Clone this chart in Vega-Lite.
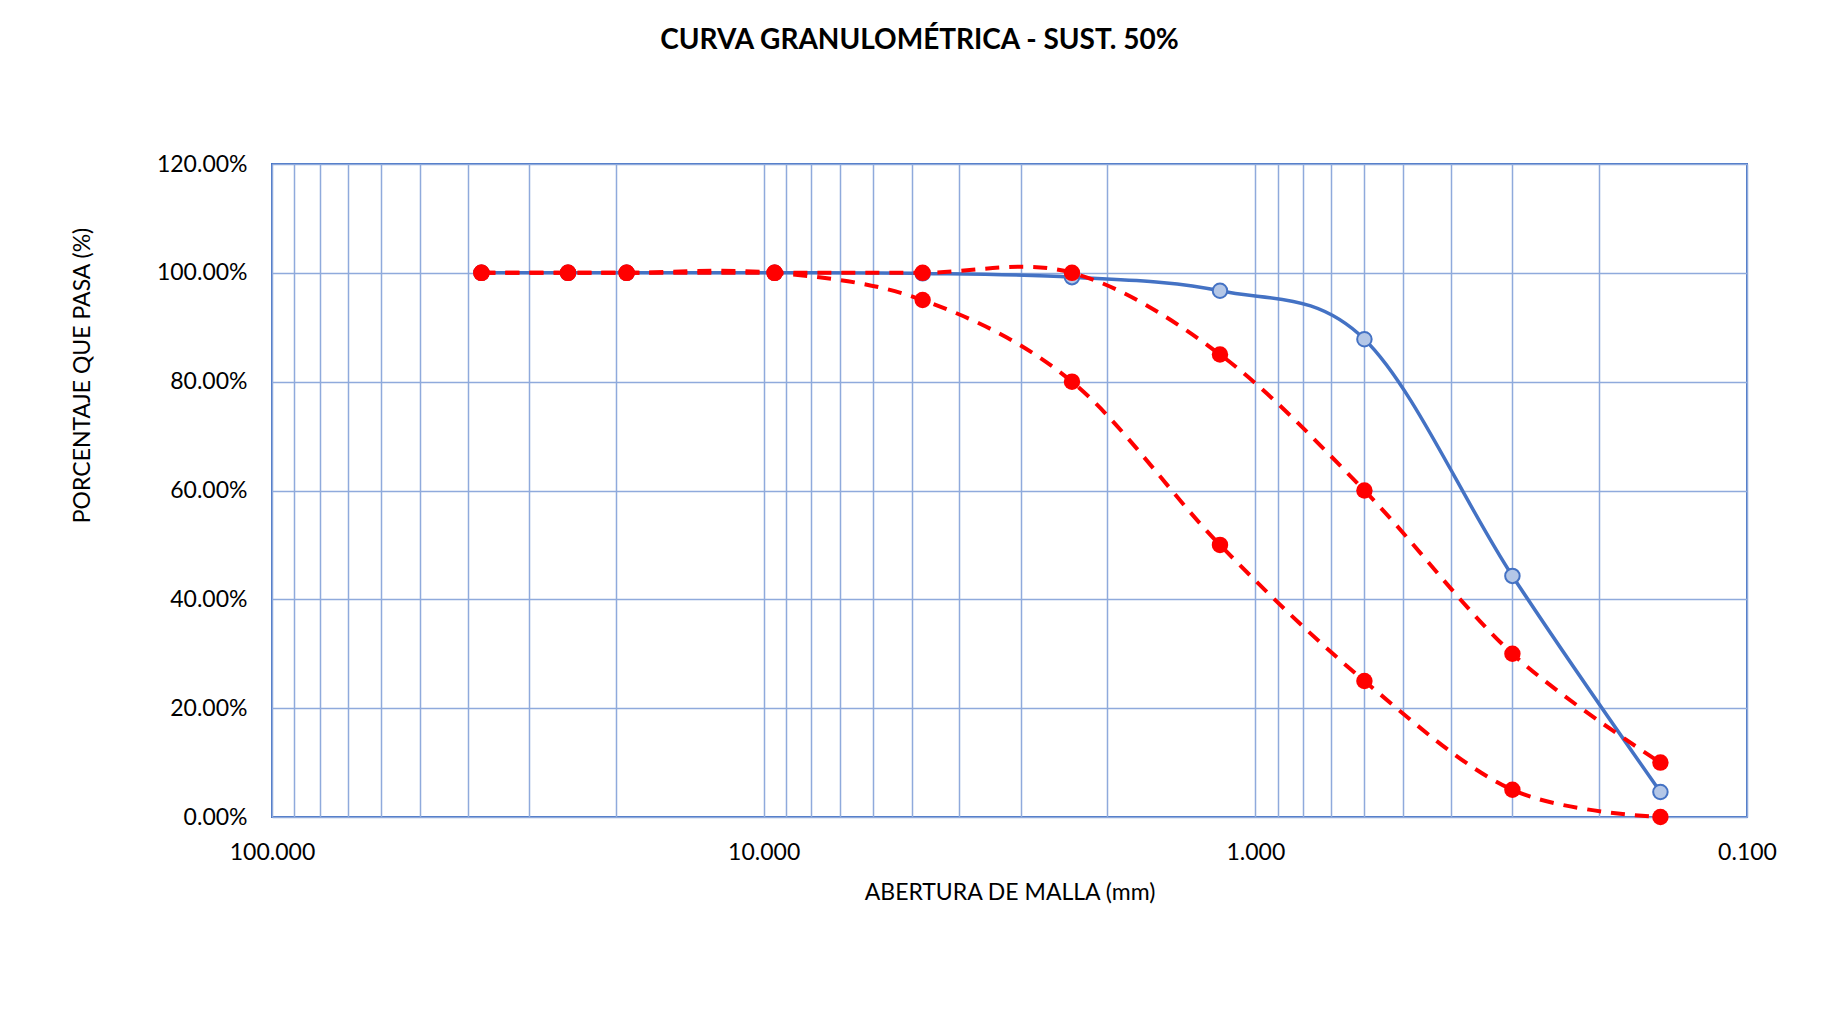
{
  "$schema": "https://vega.github.io/schema/vega-lite/v6.json",
  "autosize": "none",
  "width": 1475,
  "height": 653,
  "padding": {"left": 272, "top": 164, "right": 91, "bottom": 206},
  "background": "white",
  "title": {
    "text": "CURVA GRANULOMÉTRICA - SUST. 50%",
    "font": "Lato",
    "fontSize": 28,
    "fontWeight": "bold",
    "color": "#000000",
    "anchor": "middle",
    "dx": -90,
    "offset": 98
  },
  "config": {
    "view": {"stroke": "#4472C4", "strokeWidth": 2},
    "axis": {
      "labelFont": "Lato",
      "titleFont": "Lato",
      "labelColor": "#000000",
      "titleColor": "#000000",
      "labelFontSize": 23,
      "titleFontSize": 23,
      "titleFontWeight": "normal",
      "domain": false,
      "ticks": false,
      "gridColor": "#8FAADC",
      "gridWidth": 1.5,
      "gridOpacity": 1
    }
  },
  "data": {
    "values": [
      {"serie": "Muestra", "abertura": 37.5, "pasa": 1.0},
      {"serie": "Muestra", "abertura": 25.0, "pasa": 1.0},
      {"serie": "Muestra", "abertura": 19.0, "pasa": 1.0},
      {"serie": "Muestra", "abertura": 9.5, "pasa": 1.0},
      {"serie": "Muestra", "abertura": 4.75, "pasa": 0.999},
      {"serie": "Muestra", "abertura": 2.36, "pasa": 0.992},
      {"serie": "Muestra", "abertura": 1.18, "pasa": 0.967},
      {"serie": "Muestra", "abertura": 0.6, "pasa": 0.878},
      {"serie": "Muestra", "abertura": 0.3, "pasa": 0.443},
      {"serie": "Muestra", "abertura": 0.15, "pasa": 0.046},
      {"serie": "Superior", "abertura": 37.5, "pasa": 1.0},
      {"serie": "Superior", "abertura": 25.0, "pasa": 1.0},
      {"serie": "Superior", "abertura": 19.0, "pasa": 1.0},
      {"serie": "Superior", "abertura": 9.5, "pasa": 1.0},
      {"serie": "Superior", "abertura": 4.75, "pasa": 1.0},
      {"serie": "Superior", "abertura": 2.36, "pasa": 1.0},
      {"serie": "Superior", "abertura": 1.18, "pasa": 0.85},
      {"serie": "Superior", "abertura": 0.6, "pasa": 0.6},
      {"serie": "Superior", "abertura": 0.3, "pasa": 0.3},
      {"serie": "Superior", "abertura": 0.15, "pasa": 0.1},
      {"serie": "Inferior", "abertura": 37.5, "pasa": 1.0},
      {"serie": "Inferior", "abertura": 25.0, "pasa": 1.0},
      {"serie": "Inferior", "abertura": 19.0, "pasa": 1.0},
      {"serie": "Inferior", "abertura": 9.5, "pasa": 1.0},
      {"serie": "Inferior", "abertura": 4.75, "pasa": 0.95},
      {"serie": "Inferior", "abertura": 2.36, "pasa": 0.8},
      {"serie": "Inferior", "abertura": 1.18, "pasa": 0.5},
      {"serie": "Inferior", "abertura": 0.6, "pasa": 0.25},
      {"serie": "Inferior", "abertura": 0.3, "pasa": 0.05},
      {"serie": "Inferior", "abertura": 0.15, "pasa": 0.0}
    ]
  },
  "encoding": {
    "x": {
      "field": "abertura",
      "type": "quantitative",
      "scale": {"type": "log", "domain": [0.1, 100], "reverse": true, "nice": false},
      "axis": {
        "title": "ABERTURA DE MALLA (mm)",
        "values": [100, 90, 80, 70, 60, 50, 40, 30, 20, 10, 9, 8, 7, 6, 5, 4, 3, 2, 1, 0.9, 0.8, 0.7, 0.6, 0.5, 0.4, 0.3, 0.2, 0.1],
        "labelExpr": "abs(log(datum.value)/LN10 - round(log(datum.value)/LN10)) < 0.000001 ? format(datum.value, '.3f') : ''",
        "labelFlush": false,
        "labelOverlap": false,
        "labelBound": false,
        "labelPadding": 24,
        "titleY": 75,
        "titleBaseline": "middle"
      }
    },
    "y": {
      "field": "pasa",
      "type": "quantitative",
      "scale": {"domain": [0, 1.2], "nice": false},
      "axis": {
        "title": "PORCENTAJE QUE PASA (%)",
        "values": [0, 0.2, 0.4, 0.6, 0.8, 1.0, 1.2],
        "format": ".2%",
        "labelPadding": 25,
        "titleX": -190,
        "titleY": 211,
        "titleAngle": -90,
        "titleBaseline": "middle",
        "titleAnchor": "middle"
      }
    }
  },
  "layer": [
    {
      "transform": [{"filter": "datum.serie === 'Muestra'"}],
      "mark": {"type": "line", "interpolate": "cardinal", "color": "#4472C4", "strokeWidth": 3.5}
    },
    {
      "transform": [{"filter": "datum.serie === 'Muestra'"}],
      "mark": {"type": "point", "filled": true, "fill": "#B4C7E7", "stroke": "#4472C4", "strokeWidth": 2, "size": 210, "opacity": 1}
    },
    {
      "transform": [{"filter": "datum.serie !== 'Muestra'"}],
      "mark": {"type": "line", "interpolate": "cardinal", "color": "#FF0000", "strokeWidth": 4, "strokeDash": [14, 10]},
      "encoding": {"detail": {"field": "serie"}}
    },
    {
      "transform": [{"filter": "datum.serie !== 'Muestra'"}],
      "mark": {"type": "point", "filled": true, "color": "#FF0000", "size": 270, "opacity": 1}
    }
  ]
}
